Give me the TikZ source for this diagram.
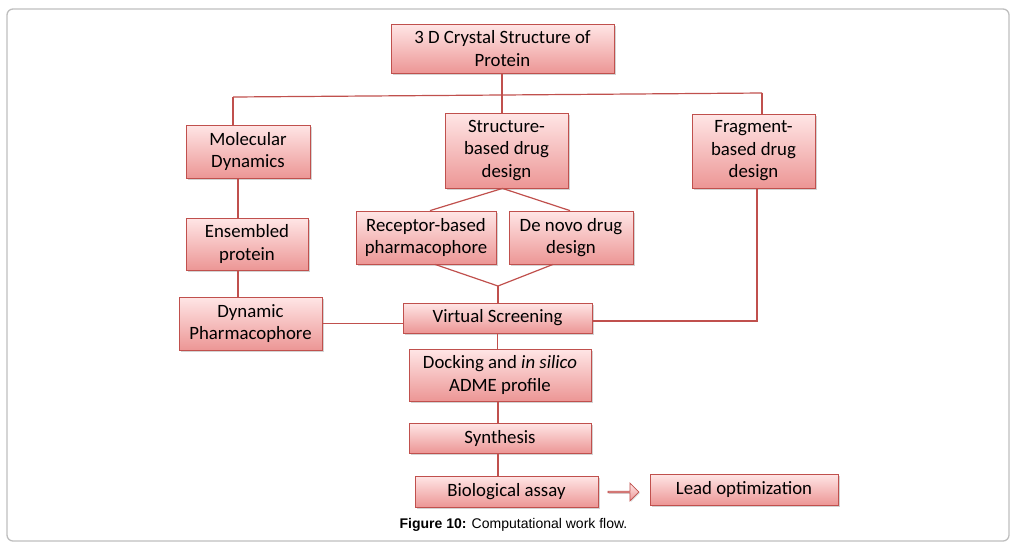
\documentclass[tikz,border=0pt]{standalone}
\usepackage{fontspec}
\setmainfont{Carlito}
\newfontfamily\capfont{Liberation Sans}
\usepackage{tikz}
\usetikzlibrary{calc,shapes,shapes.arrows,shadows,positioning}
\definecolor{boxtop}{RGB}{255,230,230}
\definecolor{boxbot}{RGB}{236,150,149}
\definecolor{boxline}{RGB}{192,80,77}
\definecolor{frameline}{RGB}{190,190,190}

\begin{document}
\begin{tikzpicture}[x=1pt,y=-1pt]
          \useasboundingbox (0,0) rectangle (1016,550);
          \draw[frameline,line width=1.3pt,rounded corners=6pt] (7,9) rectangle (1009,541);

          \tikzstyle{every path}=[boxline,line width=1.2pt]
          \tikzstyle{flowbox}=[draw=boxline,line width=0.8pt,top color=boxtop,bottom color=boxbot,
            text=black,align=center,inner sep=0pt,font=\fontsize{18.8}{22.5}\selectfont,
            drop shadow={shadow xshift=1.5pt,shadow yshift=-1.5pt,opacity=0.35}]

          % top box
          \node[flowbox,minimum width=223,minimum height=49] (crystal) at (502.5,48.5) {3 D Crystal Structure of\\Protein};

          % three branches
          \node[flowbox,minimum width=124,minimum height=53] (md) at (248,151.5) {Molecular\\Dynamics};
          \node[flowbox,minimum width=123,minimum height=75] (sbdd) at (506.5,150.5) {Structure-\\based drug\\design};
          \node[flowbox,minimum width=123,minimum height=74] (fbdd) at (753.5,151) {Fragment-\\based drug\\design};

          \node[flowbox,minimum width=122,minimum height=52] (ens) at (247,244) {Ensembled\\protein};
          \node[flowbox,minimum width=143,minimum height=53] (dph) at (250.5,323.5) {Dynamic\\Pharmacophore};
          \node[flowbox,minimum width=140,minimum height=53] (rec) at (426,237.5) {Receptor-based\\pharmacophore};
          \node[flowbox,minimum width=124,minimum height=53] (dnv) at (571,237.5) {De novo drug\\design};

          % main line
          \node[flowbox,minimum width=189,minimum height=30] (vs) at (497.5,318) {Virtual Screening};
          \node[flowbox,minimum width=182,minimum height=52] (dock) at (500,375) {Docking and \emph{in silico}\\ADME profile};
          \node[flowbox,minimum width=182,minimum height=30] (syn) at (500,438) {Synthesis};
          \node[flowbox,minimum width=183,minimum height=31] (bio) at (506.5,491.5) {Biological assay};
          \node[flowbox,minimum width=188,minimum height=31] (lead) at (744,489.5) {Lead optimization};
          \node[single arrow,draw=boxline,line width=0.8pt,top color=boxtop,bottom color=boxbot,
            minimum height=31,minimum width=18,single arrow head extend=4pt,inner sep=0pt,
            drop shadow={shadow xshift=1pt,shadow yshift=-1pt,opacity=0.3}] (arr) at (623,492) {};

          % junctions
          \coordinate (jl) at (233,97);
          \coordinate (jm) at (502,95);
          \coordinate (jr) at (762,93);
          \coordinate (vm) at (498,286);

          \draw (crystal.south -| jm) -- (jm);
          \draw (jl) -- (jm) -- (jr);
          \draw (jl) -- (md.north -| jl);
          \draw (jm) -- (sbdd.north -| jm);
          \draw (jr) -- (fbdd.north -| jr);

          \draw ([xshift=-10pt]md.south) -- ([xshift=-9pt]ens.north);
          \draw ([xshift=-9pt]ens.south) -- ([xshift=-12.5pt]dph.north);

          \draw ([xshift=4pt]rec.north) -- ([xshift=-4pt]sbdd.south) -- ([xshift=-1pt]dnv.north);
          \draw ([xshift=9pt]rec.south) -- (vm) -- ([xshift=-18pt]dnv.south);
          \draw (vm) -- (vm |- vs.north);

          \draw (dph.east) -- (vs.west |- dph.east);
          \draw ([xshift=3.5pt]fbdd.south) |- ([yshift=-3pt]vs.east);

          \draw (vs.south) -- (vs.south |- dock.north);
          \draw ([xshift=-2pt]dock.south) -- ([xshift=-2pt]syn.north);
          \draw ([xshift=-2pt]syn.south) -- (bio.north -| 498,0);

          % caption
          \node[font=\capfont\fontsize{14}{17}\selectfont,text=black] (cap) at (513.5,525)
            {\textbf{Figure 10:} Computational work flow.};
\end{tikzpicture}
\end{document}
